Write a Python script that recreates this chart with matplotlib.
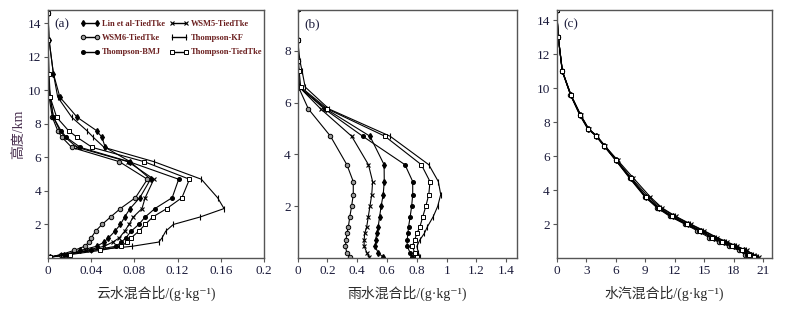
import matplotlib
matplotlib.use("Agg")
import matplotlib.pyplot as plt
from matplotlib.lines import Line2D

plt.rcParams['font.family'] = ['Liberation Serif', 'Noto Sans CJK SC', 'DejaVu Serif']
plt.rcParams['axes.unicode_minus'] = False

# model levels (km)
z = [0.05, 0.2, 0.45, 0.7, 0.95, 1.2, 1.6, 2.0, 2.45, 2.95, 3.6, 4.7, 5.75,
     6.6, 7.2, 7.6, 8.4, 9.6, 11.0, 13.0, 14.6]

schemes = ["Lin et al-TiedTke", "WSM5-TiedTke", "WSM6-TiedTke",
           "Thompson-KF", "Thompson-BMJ", "Thompson-TiedTke"]

# (a) cloud water mixing ratio (g/kg)
qc_lin = [0.002, 0.015, 0.030, 0.045, 0.052, 0.056, 0.062, 0.067, 0.071, 0.076, 0.085,
          0.095, 0.076, 0.053, 0.050, 0.045, 0.027, 0.011, 0.005, 0.001, 0.0]
qc_wsm5 = [0.002, 0.016, 0.035, 0.052, 0.060, 0.066, 0.071, 0.075, 0.079, 0.087, 0.090,
           0.098, 0.074, 0.027, 0.016, 0.011, 0.005, 0.002, 0.0, 0.0, 0.0]
qc_wsm6 = [0.001, 0.012, 0.024, 0.034, 0.038, 0.040, 0.044, 0.050, 0.058, 0.067, 0.081,
           0.092, 0.066, 0.022, 0.013, 0.009, 0.004, 0.001, 0.0, 0.0, 0.0]
qc_kf = [0.002, 0.012, 0.040, 0.078, 0.1025, 0.1056, 0.109, 0.116, 0.141, 0.163, 0.157,
         0.142, 0.098, 0.052, 0.042, 0.036, 0.022, 0.009, 0.005, 0.001, 0.0]
qc_bmj = [0.002, 0.018, 0.040, 0.063, 0.068, 0.072, 0.077, 0.084, 0.090, 0.099, 0.115,
          0.121, 0.075, 0.030, 0.017, 0.012, 0.005, 0.002, 0.0, 0.0, 0.0]
qc_tt = [0.002, 0.020, 0.048, 0.068, 0.073, 0.077, 0.084, 0.090, 0.097, 0.110, 0.124,
         0.131, 0.089, 0.041, 0.027, 0.019, 0.008, 0.002, 0.001, 0.0, 0.0]

# (b) rain water mixing ratio (g/kg)
qr_lin = [0.57, 0.54, 0.52, 0.524, 0.53, 0.54, 0.55, 0.56, 0.574, 0.581, 0.58,
          0.485, 0.19, 0.01, 0.005, 0.0, 0.0, 0.0, 0.0, 0.0, 0.0]
qr_wsm5 = [0.48, 0.465, 0.446, 0.446, 0.45, 0.463, 0.474, 0.485, 0.497, 0.503, 0.475,
           0.362, 0.155, 0.01, 0.005, 0.0, 0.0, 0.0, 0.0, 0.0, 0.0]
qr_wsm6 = [0.35, 0.33, 0.32, 0.325, 0.33, 0.34, 0.35, 0.362, 0.373, 0.373, 0.33,
           0.22, 0.072, 0.005, 0.0, 0.0, 0.0, 0.0, 0.0, 0.0, 0.0]
qr_kf = [0.82, 0.81, 0.80, 0.82, 0.85, 0.87, 0.91, 0.94, 0.96, 0.944, 0.88,
         0.62, 0.21, 0.05, 0.03, 0.015, 0.0, 0.0, 0.0, 0.0, 0.0]
qr_bmj = [0.77, 0.755, 0.735, 0.735, 0.74, 0.744, 0.755, 0.765, 0.772, 0.772, 0.72,
          0.436, 0.18, 0.01, 0.005, 0.0, 0.0, 0.0, 0.0, 0.0, 0.0]
qr_tt = [0.8, 0.785, 0.77, 0.785, 0.8, 0.82, 0.84, 0.86, 0.88, 0.888, 0.83,
         0.585, 0.2, 0.02, 0.01, 0.005, 0.0, 0.0, 0.0, 0.0, 0.0]

# (c) water vapour mixing ratio (g/kg)
qv_lin = [20.2, 19.7, 19.0, 18.0, 17.0, 16.0, 14.7, 13.3, 11.8, 10.4, 9.05,
          7.5, 6.05, 4.85, 4.0, 3.2, 2.4, 1.42, 0.57, 0.16, 0.0]
qv_wsm5 = [20.5, 20.0, 19.3, 18.3, 17.3, 16.3, 15.0, 13.6, 12.1, 10.7, 9.5,
           7.8, 6.2, 4.9, 4.05, 3.25, 2.45, 1.45, 0.58, 0.16, 0.0]
qv_wsm6 = [19.6, 19.1, 18.5, 17.5, 16.5, 15.5, 14.3, 13.0, 11.5, 10.2, 8.95,
           7.4, 6.0, 4.8, 3.95, 3.15, 2.35, 1.4, 0.56, 0.16, 0.0]
qv_kf = [20.4, 19.9, 19.2, 18.2, 17.2, 16.2, 14.9, 13.5, 12.0, 10.6, 9.3,
         7.6, 6.1, 4.9, 4.05, 3.25, 2.45, 1.45, 0.58, 0.16, 0.0]
qv_bmj = [19.8, 19.3, 18.7, 17.7, 16.7, 15.7, 14.5, 13.1, 11.6, 10.3, 9.0,
          7.45, 6.0, 4.8, 4.0, 3.2, 2.4, 1.42, 0.57, 0.16, 0.0]
qv_tt = [20.0, 19.5, 18.8, 17.8, 16.8, 15.8, 14.6, 13.2, 11.7, 10.4, 9.1,
         7.5, 6.05, 4.85, 4.0, 3.2, 2.4, 1.42, 0.57, 0.16, 0.0]

styles = {
    "Lin et al-TiedTke": dict(marker='d', ms=3.0, mfc='black', mec='black'),
    "WSM5-TiedTke": dict(marker='x', ms=3.0, mfc='black', mec='black', mew=0.8),
    "WSM6-TiedTke": dict(marker='o', ms=3.2, mfc='#9a9a9a', mec='black', mew=0.7),
    "Thompson-KF": dict(marker='|', ms=4.0, mfc='black', mec='black', mew=0.8),
    "Thompson-BMJ": dict(marker='o', ms=2.6, mfc='black', mec='black'),
    "Thompson-TiedTke": dict(marker='s', ms=3.2, mfc='white', mec='black', mew=0.7),
}

qc = dict(zip(schemes, [qc_lin, qc_wsm5, qc_wsm6, qc_kf, qc_bmj, qc_tt]))
qr = dict(zip(schemes, [qr_lin, qr_wsm5, qr_wsm6, qr_kf, qr_bmj, qr_tt]))
qv = dict(zip(schemes, [qv_lin, qv_wsm5, qv_wsm6, qv_kf, qv_bmj, qv_tt]))

fig = plt.figure(figsize=(8.02, 3.09), dpi=100)
bottom, top = 1 - 258 / 309, 1 - 10 / 309
axa = fig.add_axes([48 / 802, bottom, (264 - 48) / 802, top - bottom])
axb = fig.add_axes([297.7 / 802, bottom, (516.7 - 297.7) / 802, top - bottom])
axc = fig.add_axes([556.7 / 802, bottom, (772.3 - 556.7) / 802, top - bottom])

tick_color = '#1c1c3c'
for ax, data in ((axa, qc), (axb, qr), (axc, qv)):
    for s in schemes:
        ax.plot(data[s], z, color='black', lw=0.8, clip_on=True, **styles[s])
    for sp in ax.spines.values():
        sp.set_color('#555555')
        sp.set_linewidth(1.0)
    ax.tick_params(direction='out', length=3, width=0.8, colors='#555555',
                   labelcolor=tick_color, labelsize=9.5, pad=2)

axa.set_xlim(0, 0.2)
axa.set_ylim(0, 14.8)
axa.set_xticks([0, 0.04, 0.08, 0.12, 0.16, 0.2])
axa.set_xticklabels(['0', '0.04', '0.08', '0.12', '0.16', '0.2'])
axa.set_yticks([2, 4, 6, 8, 10, 12, 14])

axb.set_xlim(0, 1.47)
axb.set_ylim(0, 9.57)
axb.set_xticks([0, 0.2, 0.4, 0.6, 0.8, 1.0, 1.2, 1.4])
axb.set_xticklabels(['0', '0.2', '0.4', '0.6', '0.8', '1', '1.2', '1.4'])
axb.set_yticks([2, 4, 6, 8])

axc.set_xlim(0, 21.9)
axc.set_ylim(0, 14.6)
axc.set_xticks([0, 3, 6, 9, 12, 15, 18, 21])
axc.set_yticks([2, 4, 6, 8, 10, 12, 14])

lab_color = '#2a2a2a'
axa.set_xlabel('云水混合比/(g·kg⁻¹)', fontsize=10, color=lab_color, labelpad=6)
axb.set_xlabel('雨水混合比/(g·kg⁻¹)', fontsize=10, color=lab_color, labelpad=6)
axc.set_xlabel('水汽混合比/(g·kg⁻¹)', fontsize=10, color=lab_color, labelpad=6)
axa.set_ylabel('高度/km', fontsize=10, color='#4a3050', labelpad=2)

for ax, t in ((axa, '(a)'), (axb, '(b)'), (axc, '(c)')):
    ax.text(0.03, 0.965, t, transform=ax.transAxes, ha='left', va='top',
            fontsize=9.5, color='#1c1c3c')

order = ["Lin et al-TiedTke", "WSM6-TiedTke", "Thompson-BMJ",
         "WSM5-TiedTke", "Thompson-KF", "Thompson-TiedTke"]
handles = [Line2D([], [], color='black', lw=1.0, **styles[s]) for s in order]
leg = axa.legend(handles, order, ncol=2, loc='upper left',
                 bbox_to_anchor=(0.125, 0.98), frameon=False,
                 prop={'size': 6, 'weight': 'bold'}, handlelength=2.3,
                 handletextpad=0.3, columnspacing=0.6, labelspacing=0.75,
                 borderaxespad=0.2, numpoints=2)
for t in leg.get_texts():
    t.set_color('#6b1f1f')

fig.savefig('out.png', dpi=100)
